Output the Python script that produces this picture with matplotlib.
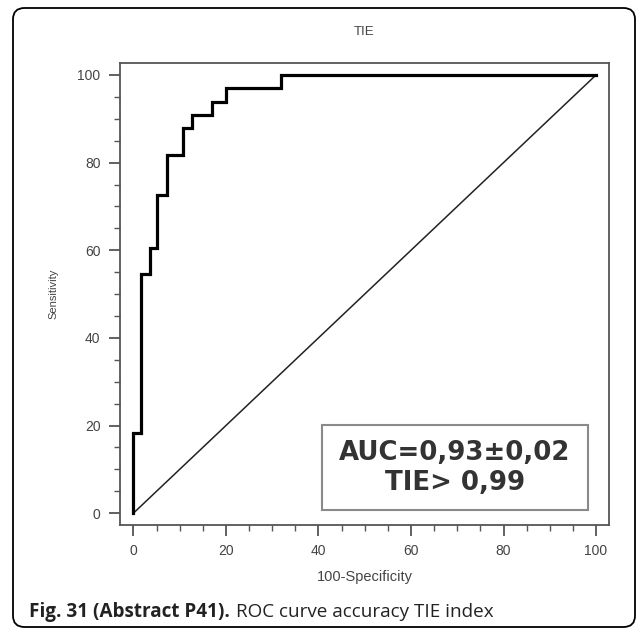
import matplotlib
matplotlib.use("Agg")
import matplotlib.pyplot as plt
from matplotlib.patches import Rectangle, FancyBboxPatch
from matplotlib.ticker import MultipleLocator

# ROC points (100-specificity, sensitivity), drawn as a step curve
fpr = [0, 0, 1.6, 3.5, 5.0, 7.2, 10.8, 12.6, 17.0, 20.0, 32.0, 100]
tpr = [0, 18.2, 54.5, 60.6, 72.7, 81.8, 87.9, 90.9, 93.9, 97.0, 100, 100]
ref_line = [0, 100]
title = "TIE"
auc_text = "AUC=0,93\u00b10,02"
cut_text = "TIE> 0,99"
caption_bold = "Fig. 31 (Abstract P41)."
caption_rest = "ROC curve accuracy TIE index"

W, H = 637, 628
fig = plt.figure(figsize=(W / 100, H / 100), dpi=100)

# outer rounded frame
frame = FancyBboxPatch((13 / W, 1 - 627 / H), (635 - 13) / W, (627 - 8) / H,
                       boxstyle="round,pad=0,rounding_size=0.018",
                       transform=fig.transFigure, fill=False,
                       edgecolor="black", linewidth=1.3)
fig.patches.append(frame)

ax = fig.add_axes([120 / W, 1 - 525 / H, (609 - 120) / W, (525 - 62.7) / H])
ax.set_xlim(-2.9, 102.8)
ax.set_ylim(-2.7, 102.8)

ax.plot(ref_line, ref_line, color="#222222", lw=1.1)
ax.plot(fpr, tpr, drawstyle="steps-post", color="black", lw=2.3,
        solid_joinstyle="miter")

spine_c = "#555555"
for s in ax.spines.values():
    s.set_color(spine_c)
    s.set_linewidth(1.3)

ax.xaxis.set_major_locator(MultipleLocator(20))
ax.xaxis.set_minor_locator(MultipleLocator(5))
ax.yaxis.set_major_locator(MultipleLocator(20))
ax.yaxis.set_minor_locator(MultipleLocator(5))
ax.tick_params(which="major", direction="out", length=8, width=1.3,
               color=spine_c, labelsize=10, labelcolor="#444444", pad=6)
ax.tick_params(which="minor", direction="out", length=4.5, width=1.0,
               color=spine_c)
for lab in ax.get_xticklabels() + ax.get_yticklabels():
    lab.set_family("Liberation Sans")

ax.set_xlabel("100-Specificity", fontsize=10.5, family="Liberation Sans",
              color="#444444", labelpad=8)
ax.set_ylabel("Sensitivity", fontsize=8, family="Liberation Sans",
              color="#444444", labelpad=14)
ax.set_title(title, fontsize=9.5, family="Liberation Sans", color="#444444",
             pad=20)

# AUC box
ax.add_patch(Rectangle((40.8, 0.7), 98.3 - 40.8, 20.1 - 0.7, fill=False,
                       edgecolor="#8a8a8a", linewidth=1.5))
ax.text(69.5, 12.1, auc_text, ha="center", va="baseline", fontsize=18.7,
        fontweight="bold", family="DejaVu Sans", color="#333333")
ax.text(69.5, 5.25, cut_text, ha="center", va="baseline", fontsize=18.7,
        fontweight="bold", family="DejaVu Sans", color="#333333")

# caption with bold lead-in, sized to span the same width as the original
cap_y = 1 - 616.7 / H
cap_x0, cap_x1, gap = 29, 490, 6
t1 = fig.text(cap_x0 / W, cap_y, caption_bold, fontsize=12, fontweight="bold",
              family="Open Sans", color="#222222", va="baseline")
t2 = fig.text(0, cap_y, caption_rest, fontsize=12, family="Open Sans",
              color="#222222", va="baseline")
fig.canvas.draw()
r = fig.canvas.get_renderer()
w_total = t1.get_window_extent(r).width + gap + t2.get_window_extent(r).width
size = 12 * (cap_x1 - cap_x0 - gap) / (w_total - gap)
t1.set_fontsize(size)
t2.set_fontsize(size)
fig.canvas.draw()
bb = t1.get_window_extent(r)
t2.set_x((bb.x1 + gap) / W)

fig.savefig("out.png", dpi=100)
